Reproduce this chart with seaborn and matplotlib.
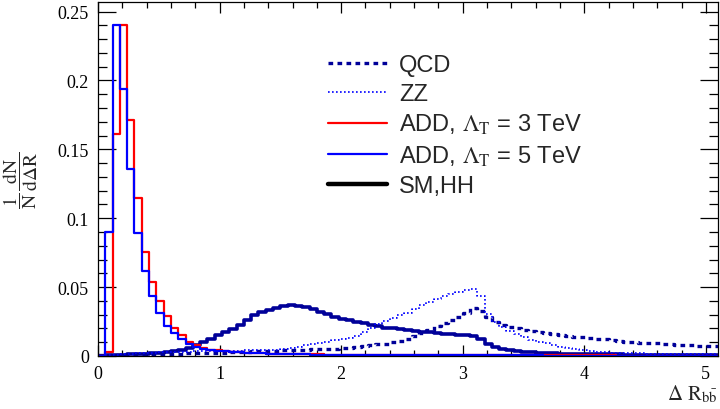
import numpy as np
import pandas as pd
import matplotlib
matplotlib.use("Agg")
import matplotlib.pyplot as plt
import seaborn as sns
from matplotlib.lines import Line2D
from matplotlib.ticker import MultipleLocator, FuncFormatter

# ---- data: 1/N dN/dDeltaR per bin, bins of width 0.06 starting at 0 ----
bin_width = 0.06
n_bins = 85

qcd = [0.0008, 0.0009, 0.0010, 0.0010, 0.0011, 0.0012, 0.0013, 0.0014, 0.0015, 0.0016,
       0.0017, 0.0018, 0.0019, 0.0020, 0.0021, 0.0022, 0.0023, 0.0025, 0.0027, 0.0029,
       0.0031, 0.0033, 0.0035, 0.0037, 0.0039, 0.0041, 0.0043, 0.0045, 0.0047, 0.0049,
       0.0050, 0.0052, 0.0054, 0.0057, 0.0060, 0.0065, 0.0070, 0.0077, 0.0084, 0.0090,
       0.0100, 0.0110, 0.0125, 0.0145, 0.0168, 0.0190, 0.0215, 0.0240, 0.0262, 0.0283,
       0.0310, 0.0350, 0.0330, 0.0285, 0.0250, 0.0225, 0.0210, 0.0200, 0.0190, 0.0182,
       0.0175, 0.0168, 0.0160, 0.0152, 0.0146, 0.0141, 0.0137, 0.0131, 0.0125, 0.0120,
       0.0114, 0.0108, 0.0102, 0.0098, 0.0096, 0.0094, 0.0091, 0.0089, 0.0087, 0.0083,
       0.0080, 0.0078, 0.0075, 0.0073, 0.0072]

zz = [0.0002, 0.0005, 0.0008, 0.0012, 0.0016, 0.0020, 0.0023, 0.0025, 0.0027, 0.0028,
      0.0030, 0.0031, 0.0032, 0.0033, 0.0034, 0.0035, 0.0036, 0.0037, 0.0038, 0.0039,
      0.0040, 0.0041, 0.0042, 0.0043, 0.0045, 0.0050, 0.0058, 0.0068, 0.0077, 0.0084,
      0.0095, 0.0105, 0.0113, 0.0122, 0.0132, 0.0148, 0.0175, 0.0205, 0.0235, 0.0255,
      0.0275, 0.0295, 0.0315, 0.0340, 0.0370, 0.0392, 0.0412, 0.0432, 0.0450, 0.0462,
      0.0478, 0.0483, 0.0435, 0.0307, 0.0247, 0.0210, 0.0185, 0.0160, 0.0140, 0.0118,
      0.0103, 0.0094, 0.0077, 0.0062, 0.0055, 0.0048, 0.0040, 0.0034, 0.0030, 0.0027,
      0.0025, 0.0023, 0.0021, 0.0020, 0.0019, 0.0018, 0.0017, 0.0016, 0.0016, 0.0015,
      0.0015, 0.0014, 0.0014, 0.0013, 0.0013]

add_3tev = [0.0, 0.003, 0.161, 0.240, 0.1715, 0.1145, 0.0754, 0.054, 0.0396, 0.0287,
            0.0203, 0.0154, 0.0101, 0.0082, 0.0058, 0.0045, 0.0040, 0.0035, 0.0031, 0.0028,
            0.0025, 0.0022, 0.0020, 0.0018, 0.0016, 0.0015, 0.0014, 0.0013, 0.0012, 0.0011,
            0.0011, 0.0010, 0.0010, 0.0010, 0.0009, 0.0009, 0.0009, 0.0009, 0.0008, 0.0008,
            0.0008, 0.0008, 0.0008, 0.0007, 0.0007, 0.0007, 0.0007, 0.0007, 0.0007, 0.0006,
            0.0006, 0.0006, 0.0006, 0.0006, 0.0006, 0.0005, 0.0005, 0.0005, 0.0005, 0.0005,
            0.0005, 0.0005, 0.0004, 0.0004, 0.0004, 0.0004, 0.0004, 0.0004, 0.0004, 0.0004,
            0.0004, 0.0003, 0.0003, 0.0003, 0.0003, 0.0003, 0.0003, 0.0003, 0.0003, 0.0003,
            0.0003, 0.0003, 0.0003, 0.0003, 0.0003]

add_5tev = [0.0, 0.090, 0.240, 0.194, 0.136, 0.089, 0.0616, 0.0435, 0.031, 0.022,
            0.0170, 0.0125, 0.0090, 0.0065, 0.0050, 0.0044, 0.0038, 0.0034, 0.0030, 0.0027,
            0.0024, 0.0021, 0.0019, 0.0017, 0.0015, 0.0014, 0.0013, 0.0012, 0.0011, 0.0010,
            0.0010, 0.0009, 0.0009, 0.0008, 0.0008, 0.0008, 0.0007, 0.0007, 0.0007, 0.0007,
            0.0006, 0.0006, 0.0006, 0.0006, 0.0006, 0.0005, 0.0005, 0.0005, 0.0005, 0.0005,
            0.0005, 0.0005, 0.0004, 0.0004, 0.0004, 0.0004, 0.0004, 0.0004, 0.0004, 0.0004,
            0.0004, 0.0003, 0.0003, 0.0003, 0.0003, 0.0003, 0.0003, 0.0003, 0.0003, 0.0003,
            0.0003, 0.0003, 0.0003, 0.0003, 0.0003, 0.0002, 0.0002, 0.0002, 0.0002, 0.0002,
            0.0002, 0.0002, 0.0002, 0.0002, 0.0002]

sm_hh = [0.0003, 0.0005, 0.0007, 0.0009, 0.0011, 0.0013, 0.0016, 0.0019, 0.0023, 0.0028,
         0.0035, 0.0045, 0.0060, 0.0077, 0.0100, 0.0125, 0.0150, 0.0174, 0.0198, 0.0225,
         0.0260, 0.0300, 0.0320, 0.0336, 0.0350, 0.0362, 0.0367, 0.0362, 0.0352, 0.0338,
         0.0322, 0.0303, 0.0286, 0.0271, 0.0259, 0.0248, 0.0237, 0.0226, 0.0215, 0.0206,
         0.0200, 0.0195, 0.0189, 0.0183, 0.0177, 0.0172, 0.0167, 0.0162, 0.0158, 0.0154,
         0.0150, 0.0146, 0.0120, 0.0089, 0.0065, 0.0048, 0.0040, 0.0034, 0.0030, 0.0027,
         0.0025, 0.0022, 0.0020, 0.0018, 0.0017, 0.0016, 0.0015, 0.0014, 0.0013, 0.0012,
         0.0011, 0.0011, 0.0010, 0.0010, 0.0009, 0.0009, 0.0009, 0.0008, 0.0008, 0.0008,
         0.0007, 0.0007, 0.0007, 0.0006, 0.0006]

legend_labels = ["QCD", "ZZ", r"ADD, $\Lambda_{\mathrm{T}}$ = 3 TeV",
                 r"ADD, $\Lambda_{\mathrm{T}}$ = 5 TeV", "SM,HH"]
x_ticks = [0, 1, 2, 3, 4, 5]
y_ticks = [0, 0.05, 0.1, 0.15, 0.2, 0.25]

# ---- style ----
sns.set_style("ticks")
plt.rcParams["font.family"] = ["Liberation Serif", "DejaVu Serif"]
plt.rcParams["mathtext.fontset"] = "stix"

centers = (np.arange(n_bins) + 0.5) * bin_width
df = pd.DataFrame({"dR": centers, "qcd": qcd, "zz": zz, "add3": add_3tev,
                   "add5": add_5tev, "hh": sm_hh})

navy = "#000099"
blue = "#0000ff"
red = "#ff0000"

fig = plt.figure(figsize=(7.2, 4.1), dpi=100)
ax = fig.add_axes([98 / 720, 53 / 410, 620 / 720, 354 / 410])

common = dict(x="dR", binwidth=bin_width, binrange=(0, n_bins * bin_width),
              element="step", fill=False, ax=ax, stat="count")
sns.histplot(data=df, weights="hh", color=navy, linewidth=2.6, **common)
sns.histplot(data=df, weights="qcd", color=navy, linewidth=2.4,
             linestyle=(0, (1.4, 1.3)), **common)
sns.histplot(data=df, weights="zz", color=blue, linewidth=1.2,
             linestyle=(0, (1, 1.4)), **common)
sns.histplot(data=df, weights="add3", color=red, linewidth=1.6, **common)
sns.histplot(data=df, weights="add5", color=blue, linewidth=1.6, **common)

ax.set_xlim(0, 5.1)
ax.set_ylim(0, 0.2569)
ax.set_xlabel("")
ax.set_ylabel("")
ax.xaxis.set_major_locator(matplotlib.ticker.FixedLocator(x_ticks))
ax.xaxis.set_minor_locator(MultipleLocator(0.2))
ax.yaxis.set_major_locator(matplotlib.ticker.FixedLocator(y_ticks))
ax.yaxis.set_minor_locator(MultipleLocator(0.01))
ax.yaxis.set_major_formatter(FuncFormatter(lambda v, p: f"{v:g}"))
ax.xaxis.set_major_formatter(FuncFormatter(lambda v, p: f"{v:g}"))

for s in ax.spines.values():
    s.set_visible(True)
    s.set_linewidth(0.9)
    s.set_color("black")
ax.tick_params(which="both", direction="in", top=True, right=True, width=0.9,
               labelsize=13, colors="black")
ax.tick_params(axis="y", which="major", length=13, pad=6.5)
ax.tick_params(axis="y", which="minor", length=6.5)
ax.tick_params(axis="x", which="major", length=8, pad=6.5)
ax.tick_params(axis="x", which="minor", length=4.3)

# axis titles
fig.text(21 / 720, 1 - 180 / 410, r"$\mathrm{\dfrac{1}{N}\,\dfrac{dN}{d\Delta R}}$",
         rotation=90, ha="center", va="center", fontsize=14)
fig.text(718 / 720, 1 - 400 / 410, r"$\Delta\ \mathrm{R}_{\mathrm{b\bar{b}}}$",
         ha="right", va="baseline", fontsize=15)

# legend
handles = [
    Line2D([], [], color=navy, lw=2.4, linestyle=(0, (1.4, 1.3))),
    Line2D([], [], color=blue, lw=1.2, linestyle=(0, (1, 1.4))),
    Line2D([], [], color=red, lw=1.6),
    Line2D([], [], color=blue, lw=1.6),
    Line2D([], [], color="black", lw=3.2),
]
leg = ax.legend(handles, legend_labels, loc="upper left",
                bbox_to_anchor=(328 / 720, 1 - 55 / 410), bbox_transform=fig.transFigure,
                frameon=False, borderpad=0, borderaxespad=0,
                handlelength=2.5, handletextpad=0.5, labelspacing=0.3,
                prop={"family": ["Liberation Sans", "DejaVu Sans"], "size": 17})

fig.savefig("out.png", dpi=100)
